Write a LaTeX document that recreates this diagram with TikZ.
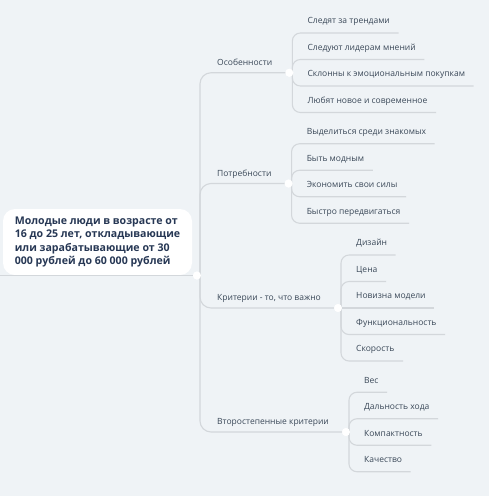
\documentclass[tikz,border=0pt]{standalone}
\usepackage{fontspec}
\setmainfont{Open Sans}
\usetikzlibrary{calc}
\definecolor{bg}{HTML}{EFF3F6}
\definecolor{ln}{HTML}{D3D7DB}
\definecolor{tx}{HTML}{3A4858}
\definecolor{rt}{HTML}{263754}
\begin{document}
\begin{tikzpicture}[x=1pt,y=-1pt,
  conn/.style={draw=ln, line width=1.1pt},
  trunk/.style={conn, rounded corners=11pt},
  twig/.style={conn, rounded corners=8pt},
  dot/.style={circle, fill=white, inner sep=0pt, minimum size=8pt},
  branch/.style={anchor=south west, inner sep=0pt, text depth=7pt, text height=7pt,
    font=\fontsize{8.5}{11}\selectfont, text=tx},
  leaf/.style={anchor=south west, inner xsep=8.5pt, inner ysep=0pt, text depth=9pt, text height=7pt,
    font=\fontsize{8.5}{11}\selectfont, text=tx},
  rootbox/.style={fill=white, rounded corners=12pt, minimum width=189pt, minimum height=66pt,
    align=left, font=\fontsize{10.6}{13.2}\selectfont\bfseries, text=rt, inner sep=0pt}]
\fill[bg] (0,0) rectangle (489,496);
\useasboundingbox (0,0) rectangle (489,496);

% root
\node[rootbox] (root) at (97.5,242) {Молодые люди в возрасте от\\16 до 25 лет, откладывающие\\или зарабатывающие от 30\\000 рублей до 60 000 рублей};
\node[dot] (c0) at (197,275.5) {};
\coordinate (rl) at (0,275.5);
\coordinate (ts) at ($(c0)+(3,0)$);

% branches
\node[branch] (b1) at (217,72.75) {Особенности};
\node[branch] (b2) at (217,183.5) {Потребности};
\node[branch] (b3) at (217,308) {Критерии - то, что важно};
\node[branch] (b4) at (217,432) {Второстепенные критерии};
\node[dot] (c1) at ($(b1.south east)+(17,0)$) {};
\node[dot] (c2) at ($(b2.south east)+(17,0)$) {};
\node[dot] (c3) at ($(b3.south east)+(17,0)$) {};
\node[dot] (c4) at ($(b4.south east)+(17,0)$) {};

% leaves of b1
\node[leaf] (l11) at ($(c1)+(9.5,-39.75)$) {Следят за трендами};
\node[leaf] (l12) at ($(c1)+(9.5,-13.25)$) {Следуют лидерам мнений};
\node[leaf] (l13) at ($(c1)+(9.5,13.25)$) {Склонны к эмоциональным покупкам};
\node[leaf] (l14) at ($(c1)+(9.5,39.75)$) {Любят новое и современное};
% leaves of b2
\node[leaf] (l21) at ($(c2)+(9.5,-39.75)$) {Выделиться среди знакомых};
\node[leaf] (l22) at ($(c2)+(9.5,-13.25)$) {Быть модным};
\node[leaf] (l23) at ($(c2)+(9.5,13.25)$) {Экономить свои силы};
\node[leaf] (l24) at ($(c2)+(9.5,39.75)$) {Быстро передвигаться};
% leaves of b3
\node[leaf] (l31) at ($(c3)+(9.5,-53)$) {Дизайн};
\node[leaf] (l32) at ($(c3)+(9.5,-26.5)$) {Цена};
\node[leaf] (l33) at ($(c3)+(9.5,0)$) {Новизна модели};
\node[leaf] (l34) at ($(c3)+(9.5,26.5)$) {Функциональность};
\node[leaf] (l35) at ($(c3)+(9.5,53)$) {Скорость};
% leaves of b4
\node[leaf] (l41) at ($(c4)+(9.5,-39.75)$) {Вес};
\node[leaf] (l42) at ($(c4)+(9.5,-13.25)$) {Дальность хода};
\node[leaf] (l43) at ($(c4)+(9.5,13.25)$) {Компактность};
\node[leaf] (l44) at ($(c4)+(9.5,39.75)$) {Качество};

% connectors
\draw[conn] (rl) -- (c0);
\foreach \b/\c in {b1/c1,b2/c2,b3/c3,b4/c4}{
  \draw[trunk] (ts) -- (ts |- \c) -- (\c.center);
}
\foreach \c/\l in {c1/l11,c1/l12,c1/l13,c1/l14,c2/l21,c2/l22,c2/l23,c2/l24,
                   c3/l31,c3/l32,c3/l34,c3/l35,c4/l41,c4/l42,c4/l43,c4/l44}{
  \draw[twig] ($(\c)+(3,0)$) coordinate (s) -- (s |- \l.south east) -- (\l.south east);
}
\draw[conn] (c3.center) -- (l33.south east);

% dots on top
\foreach \c in {c0,c1,c2,c3,c4}{
  \node[dot] at (\c) {};
}
\end{tikzpicture}
\end{document}
